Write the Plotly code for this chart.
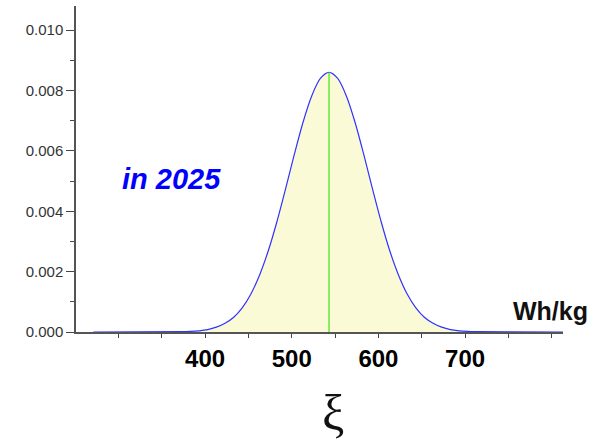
import plotly.graph_objects as go

# Energy density (Wh/kg) and probability density
energy = [271, 373, 383, 393, 403, 413, 423, 433, 443, 453, 463, 473, 483, 493, 503,
          513, 523, 533, 543, 553, 563, 573, 583, 593, 603, 613, 623, 633, 643, 653,
          663, 673, 683, 693, 703, 713, 813]
density = [0.0, 0.00001, 0.00002, 0.00004, 0.00008, 0.00016, 0.00029, 0.00049, 0.00081,
           0.00127, 0.00190, 0.00270, 0.00367, 0.00476, 0.00589, 0.00695, 0.00782,
           0.00840, 0.00860, 0.00840, 0.00782, 0.00695, 0.00589, 0.00476, 0.00367,
           0.00270, 0.00190, 0.00127, 0.00081, 0.00049, 0.00029, 0.00016, 0.00008,
           0.00004, 0.00002, 0.00001, 0.0]

mean_energy = 543
peak_density = 0.00860

x_tickvals = [300, 350, 400, 450, 500, 550, 600, 650, 700, 750, 800]
x_ticktext = ["", "", "400", "", "500", "", "600", "", "700", "", ""]
y_tickvals = [0.0, 0.002, 0.004, 0.006, 0.008, 0.010]
y_ticktext = ["0.000", "0.002", "0.004", "0.006", "0.008", "0.010"]

fig = go.Figure()
fig.add_trace(go.Scatter(
    x=energy, y=density, mode="lines",
    line=dict(color="rgb(50,50,255)", width=1.2, shape="spline", smoothing=0.8),
    fill="tozeroy", fillcolor="rgb(250,250,214)",
    hoverinfo="skip", showlegend=False, cliponaxis=False,
))
fig.add_trace(go.Scatter(
    x=[mean_energy, mean_energy], y=[0, peak_density], mode="lines",
    line=dict(color="rgb(110,235,70)", width=1.6),
    hoverinfo="skip", showlegend=False,
))

fig.update_layout(
    width=604, height=442,
    margin=dict(l=76, r=41, t=6, b=110),
    paper_bgcolor="white", plot_bgcolor="white",
    font=dict(family="Liberation Sans, Arial, sans-serif"),
    xaxis=dict(
        range=[251, 813], showgrid=False, zeroline=False,
        showline=True, linecolor="#555555", linewidth=1.5,
        ticks="outside", ticklen=4, tickwidth=1, tickcolor="#444444",
        tickvals=x_tickvals, ticktext=x_ticktext,
        tickfont=dict(family="Liberation Sans, Arial, sans-serif", size=24, color="black", weight="bold"),
    ),
    yaxis=dict(
        range=[0, 0.0108], showgrid=False, zeroline=False,
        showline=True, linecolor="#555555", linewidth=1.5,
        ticks="outside", ticklen=8, tickwidth=1, tickcolor="#444444",
        tickvals=y_tickvals, ticktext=y_ticktext,
        tickfont=dict(family="Liberation Sans, Arial, sans-serif", size=15, color="#333333"),
        minor=dict(dtick=0.001, ticks="outside", ticklen=4, tickcolor="#444444", showgrid=False),
    ),
    annotations=[
        dict(x=361.6, y=0.00507, xref="x", yref="y", text="<b><i>in 2025</i></b>",
             showarrow=False, font=dict(family="Liberation Sans, Arial, sans-serif", size=29, color="blue")),
        dict(x=799, y=0.00068, xref="x", yref="y", text="<b>Wh/kg</b>",
             showarrow=False, font=dict(family="Liberation Sans, Arial, sans-serif", size=25, color="#111111")),
        dict(x=547.7, y=-0.34, xref="x", yref="paper", text="ξ",
             showarrow=False, font=dict(family="Liberation Serif, Times New Roman, serif", size=50, color="#111111")),
    ],
)

fig.write_html("out.html")
